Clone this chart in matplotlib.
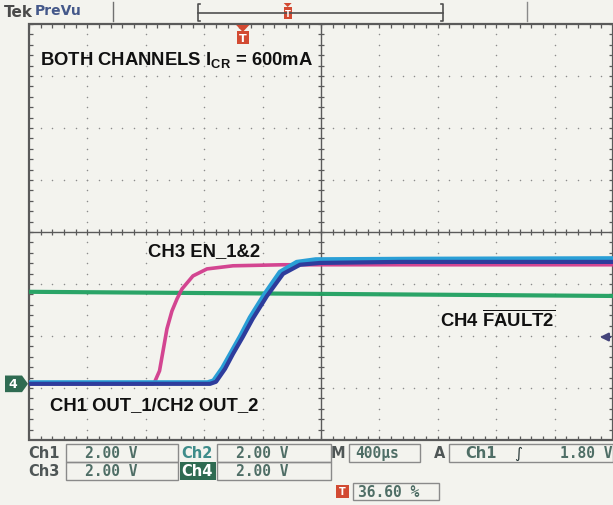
import numpy as np
import matplotlib
matplotlib.use("Agg")
import matplotlib.pyplot as plt
from matplotlib.patches import Polygon, Rectangle
from matplotlib.transforms import blended_transform_factory

# scope settings
volts_per_div = 2.0
time_per_div = 400          # us
trigger_pct = 36.60         # trigger position on screen, %
trigger_level = 1.80        # V, Ch1 rising
ground_div = -2.92          # ground marker, divisions from centre

# traces: time in us (0 = trigger), level in V
ch1_t = [-1464, -224, -183, -121, -67, 0, 68, 166, 276, 392, 529, 1077, 2536]
ch1_v = [0.0, 0.0, 0.08, 0.58, 1.15, 1.80, 2.50, 3.38, 4.23, 4.58, 4.65, 4.69, 4.69]

ch2_t = [-1464, -240, -200, -140, -80, -15, 50, 150, 255, 370, 500, 1200, 2536]
ch2_v = [0.05, 0.05, 0.12, 0.60, 1.20, 1.85, 2.55, 3.45, 4.30, 4.68, 4.78, 4.80, 4.82]

ch3_t = [-1464, -615, -605, -570, -519, -485, -450, -416, -341, -245, -67, 276, 2536]
ch3_v = [0.0, 0.0, 0.05, 0.50, 2.12, 2.80, 3.27, 3.65, 4.15, 4.42, 4.54, 4.58, 4.58]

ch4_t = [-1464, 536, 2536]
ch4_v = [3.54, 3.46, 3.38]

labels = ["CH3 EN_1&2", "CH1 OUT_1/CH2 OUT_2"]
ch_scales = ["2.00 V", "2.00 V", "2.00 V", "2.00 V"]
timebase = "400\u00b5s"

bg = "#f3f3ee"
grid_c = "#5a5a5a"
dot_c = "#8c8c8c"
blue = "#2e3c9c"
cyan = "#2a9fd6"
magenta = "#d23c8c"
green = "#1fa060"
tek_red = "#d24a32"

plt.rcParams["mathtext.fontset"] = "custom"
plt.rcParams["mathtext.bf"] = "Liberation Sans:bold"
plt.rcParams["mathtext.rm"] = "Liberation Sans"

W, H = 613, 506
fig = plt.figure(figsize=(W / 100, H / 100), dpi=100, facecolor=bg)

# graticule axes, pixel box 29..613 x 25..441
gl, gr, gt, gb = 29, 613, 25, 441
ax = fig.add_axes([gl / W, (H - gb) / H, (gr - gl) / W, (gb - gt) / H])
ax.set_facecolor(bg)
x0 = -trigger_pct / 100 * 10 * time_per_div
y0 = (-4 - ground_div) * volts_per_div
ax.set_xlim(x0, x0 + 10 * time_per_div)
ax.set_ylim(y0, y0 + 8 * volts_per_div)
ax.axis("off")

xs_div = x0 + np.arange(11) * time_per_div
ys_div = y0 + np.arange(9) * volts_per_div
xs_min = x0 + np.arange(51) * time_per_div / 5
ys_min = y0 + np.arange(41) * volts_per_div / 5
tx = time_per_div * 4 / 58.4      # ~4 px tick in data units
ty = volts_per_div * 4 / 52
xc, yc = xs_div[5], ys_div[4]

# dotted division lines
for x in xs_div[1:-1]:
    if x != xc:
        ax.scatter(np.full(len(ys_min), x), ys_min, s=1.2, color=dot_c, lw=0, zorder=1)
for y in ys_div[1:-1]:
    if y != yc:
        ax.scatter(xs_min, np.full(len(xs_min), y), s=1.2, color=dot_c, lw=0, zorder=1)

# centre cross and border with minor ticks
ax.axvline(xc, color=grid_c, lw=1.0, zorder=1)
ax.axhline(yc, color=grid_c, lw=1.0, zorder=1)
ax.vlines(xs_min, yc - ty * 0.8, yc + ty * 0.8, color=grid_c, lw=0.9, zorder=1)
ax.hlines(ys_min, xc - tx * 0.8, xc + tx * 0.8, color=grid_c, lw=0.9, zorder=1)
ax.vlines(xs_min, ys_div[-1] - ty, ys_div[-1], color=grid_c, lw=0.9)
ax.vlines(xs_min, ys_div[0], ys_div[0] + ty, color=grid_c, lw=0.9)
ax.hlines(ys_min, xs_div[0], xs_div[0] + tx, color=grid_c, lw=0.9)
ax.hlines(ys_min, xs_div[-1] - tx, xs_div[-1], color=grid_c, lw=0.9)
ax.add_patch(Rectangle((xs_div[0], ys_div[0]), 10 * time_per_div, 8 * volts_per_div,
                       fill=False, ec=grid_c, lw=1.6, clip_on=False))

# traces
ax.plot(ch4_t, ch4_v, color=green, lw=3.0, alpha=0.95, zorder=3)
ax.plot(ch3_t, ch3_v, color=magenta, lw=2.6, alpha=0.95, zorder=4,
        solid_joinstyle="round")
ax.plot(ch2_t, ch2_v, color=cyan, lw=3.4, zorder=5, solid_joinstyle="round")
ax.plot(ch1_t, ch1_v, color=blue, lw=3.0, zorder=6, solid_joinstyle="round")

# overlay in screen pixels for annotations and readouts
ov = fig.add_axes([0, 0, 1, 1], facecolor="none")
ov.set_xlim(0, W)
ov.set_ylim(H, 0)
ov.axis("off")
mix = blended_transform_factory(ov.transData, ax.transData)
mix_x = blended_transform_factory(ax.transData, ov.transData)

bold = dict(family="Liberation Sans", weight="bold", color="#111111", fontsize=13.3)
ov.text(40, 60, r"BOTH CHANNELS I$_{\mathbf{CR}}$ = 600mA", va="center", **bold)
ov.text(148, 252, labels[0], va="center", **bold)
ov.text(50, 406, labels[1], va="center", **bold)
ov.text(440, 320, r"CH4 $\overline{\mathbf{FAULT2}}$", va="center", **bold)

# ground marker for ch4 and trigger level arrow
ov.add_patch(Polygon([[5, -0.32], [22, -0.32], [28, 0], [22, 0.32], [5, 0.32]],
                     closed=True, fc="#2f6b52", ec="none", transform=mix))
ov.text(13, 0, "4", transform=mix, color="white", fontsize=9, weight="bold",
        ha="center", va="center", family="DejaVu Sans")
ov.annotate("", xy=(597, trigger_level), xytext=(613, trigger_level),
            xycoords=mix, textcoords=mix,
            arrowprops=dict(arrowstyle="-|>", color="#44447a", lw=1.6,
                            mutation_scale=12))

# trigger position marker under the top edge
ov.add_patch(Polygon([[-45, 26], [45, 26], [0, 33]], closed=True, fc=tek_red,
                     ec="none", transform=mix_x))
ov.add_patch(Rectangle((-40, 32), 80, 13, fc=tek_red, ec="none", transform=mix_x))
ov.text(0, 39, "T", transform=mix_x, color="white", fontsize=8, weight="bold",
        ha="center", va="center", family="DejaVu Sans")

# top status bar
ov.text(4, 12, "Tek", fontsize=11, weight="bold", color="#4a4a4a",
        va="center", family="DejaVu Sans")
ov.text(35, 11, "PreVu", fontsize=10, weight="bold", color="#44588a",
        va="center", family="DejaVu Sans")
ov.plot([113, 113], [3, 22], color="#707070", lw=1)
ov.plot([527, 527], [3, 22], color="#8a8a8a", lw=1)
ov.plot([198, 443], [14, 14], color="#505050", lw=1.2)
ov.plot([200, 198, 198, 200], [5, 5, 22, 22], color="#505050", lw=1.2)
ov.plot([441, 443, 443, 441], [5, 5, 22, 22], color="#505050", lw=1.2)
rec_x = 198 + (443 - 198) * trigger_pct / 100
ov.add_patch(Polygon([[rec_x - 4, 4], [rec_x + 4, 4], [rec_x, 8]], fc=tek_red, ec="none"))
ov.add_patch(Rectangle((rec_x - 4, 8), 8, 12, fc=tek_red, ec="none"))
ov.text(rec_x, 14, "T", color="white", fontsize=6, weight="bold",
        ha="center", va="center", family="DejaVu Sans")

# bottom readouts
box_ec = "#8a8a8a"
lab = dict(fontsize=10.5, va="center", family="DejaVu Sans", weight="bold")
val = dict(fontsize=10.5, va="center", family="DejaVu Sans Mono", weight="bold",
           color="#4f6e66")


def box(xa, xb, ya, yb):
    ov.add_patch(Rectangle((xa, ya), xb - xa, yb - ya, fill=False, ec=box_ec, lw=1))


r1, r2 = (445, 463), (463, 481)
box(66, 178, *r1)
box(217, 331, *r1)
box(66, 178, *r2)
box(217, 331, *r2)
box(349, 420, *r1)
box(449, 613, *r1)
box(353, 439, 484, 501)
ov.add_patch(Rectangle((180, 463), 36, 18, fc="#2f6b52", ec="none"))

ov.text(28, 454, "Ch1", color="#4f5656", **lab)
ov.text(28, 472, "Ch3", color="#4f5656", **lab)
ov.text(181, 454, "Ch2", color="#3e8c8a", **lab)
ov.text(181, 472, "Ch4", color="white", **lab)
ov.text(85, 454, ch_scales[0], **val)
ov.text(85, 472, ch_scales[2], **val)
ov.text(236, 454, ch_scales[1], **val)
ov.text(236, 472, ch_scales[3], **val)
ov.text(331, 454, "M", color="#4f5656", **lab)
ov.text(355, 454, timebase, **val)
ov.text(434, 454, "A", color="#4f5656", **lab)
ov.text(465, 454, "Ch1", color="#4f6e66", **lab)
ov.text(514, 454, "\u222b", color="#2a3a3a", fontsize=11, va="center",
        family="DejaVu Sans")
ov.text(612, 454, f"{trigger_level:.2f} V", ha="right", **val)
ov.add_patch(Rectangle((336, 486), 13, 13, fc=tek_red, ec="none"))
ov.text(342.5, 492.5, "T", color="white", fontsize=7, weight="bold",
        ha="center", va="center", family="DejaVu Sans")
ov.text(358, 492.5, f"{trigger_pct:.2f} %", **val)

fig.savefig("out.png", dpi=100, facecolor=bg)
